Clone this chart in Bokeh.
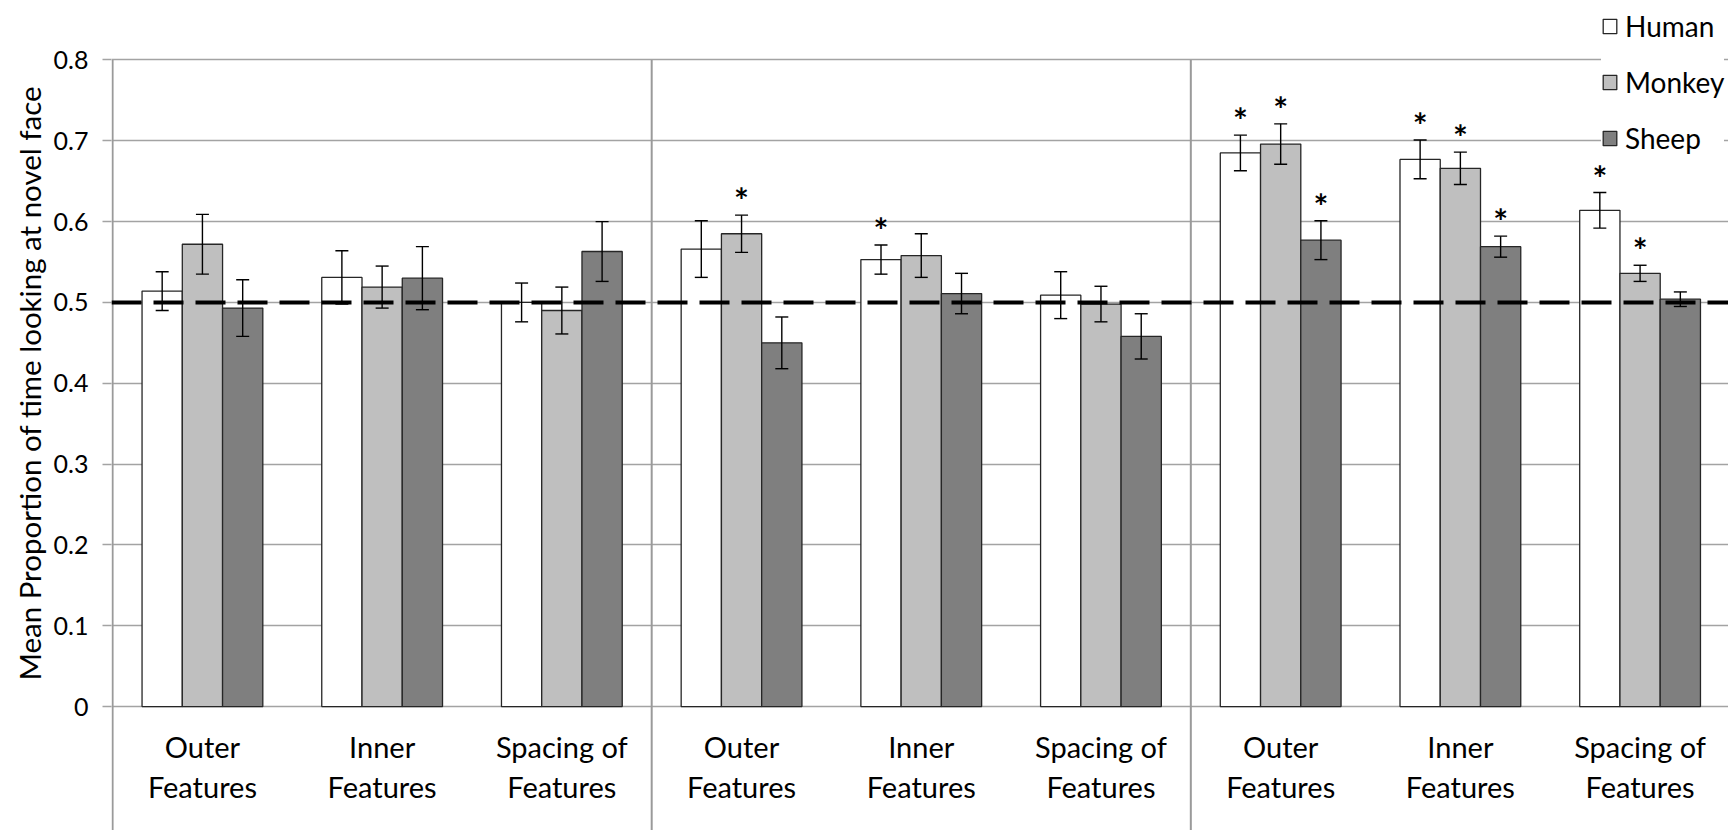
from bokeh.plotting import figure
from bokeh.models import (ColumnDataSource, Range1d, FixedTicker, Span, Whisker, TeeHead,
                          Legend, LegendItem, Title)
from bokeh.core.properties import value
from bokeh.embed import file_html
from bokeh.resources import INLINE

# ---------------- data ----------------
categories = ["Outer\nFeatures", "Inner\nFeatures", "Spacing of\nFeatures"] * 3
series_names = ["Human", "Monkey", "Sheep"]
human = [0.514, 0.531, 0.500, 0.566, 0.553, 0.509, 0.685, 0.677, 0.614]
human_err = [0.024, 0.033, 0.024, 0.035, 0.018, 0.029, 0.022, 0.024, 0.022]
monkey = [0.572, 0.519, 0.490, 0.585, 0.558, 0.498, 0.696, 0.666, 0.536]
monkey_err = [0.037, 0.026, 0.029, 0.023, 0.027, 0.022, 0.025, 0.020, 0.010]
sheep = [0.493, 0.530, 0.563, 0.450, 0.511, 0.458, 0.577, 0.569, 0.504]
sheep_err = [0.035, 0.039, 0.037, 0.032, 0.025, 0.028, 0.024, 0.013, 0.009]
human_sig = [0, 0, 0, 0, 1, 0, 1, 1, 1]
monkey_sig = [0, 0, 0, 1, 0, 0, 1, 1, 1]
sheep_sig = [0, 0, 0, 0, 0, 0, 1, 1, 0]
y_ticks = [0, 0.1, 0.2, 0.3, 0.4, 0.5, 0.6, 0.7, 0.8]
y_tick_labels = ["0", "0.1", "0.2", "0.3", "0.4", "0.5", "0.6", "0.7", "0.8"]
chance_level = 0.5
group_size = 3
y_title = "Mean Proportion of time looking at novel face"

# ---------------- styling ----------------
FONT = "Lato"
fills = ["#ffffff", "#bfbfbf", "#7f7f7f"]
bar_w = 0.224
offsets = [-bar_w, 0.0, bar_w]

n = len(categories)
centers = [i + 0.5 for i in range(n)]

p = figure(width=1728, height=830, output_backend="svg", toolbar_location=None,
           x_range=Range1d(-0.006, 8.992), y_range=Range1d(-0.1534, 0.8736),
           min_border_left=111, min_border_right=0, min_border_top=0, min_border_bottom=0)
p.outline_line_color = None
p.background_fill_color = "white"
p.border_fill_color = "white"

# grid
p.xgrid.grid_line_color = None
p.ygrid.ticker = FixedTicker(ticks=y_ticks)
p.ygrid.grid_line_color = "#a3a3a3"
p.ygrid.grid_line_width = 1.3

# y axis
p.yaxis.ticker = FixedTicker(ticks=y_ticks)
p.yaxis.major_label_overrides = {t: l for t, l in zip(y_ticks, y_tick_labels)}
p.yaxis.axis_line_color = None
p.yaxis.major_tick_line_color = "#a3a3a3"
p.yaxis.major_tick_line_width = 1.3
p.yaxis.major_tick_out = 9
p.yaxis.major_tick_in = 0
p.yaxis.minor_tick_line_color = None
p.yaxis.major_label_standoff = 14
p.yaxis.major_label_text_font = FONT
p.yaxis.major_label_text_font_size = "25px"
p.yaxis.major_label_text_color = "black"

# y title (left side panel, shifted along the axis)
p.add_layout(Title(text=y_title, align="left", offset=150, standoff=4,
                   vertical_align="top",
                   text_font=FONT, text_font_size="29.5px", text_font_style="normal",
                   text_color="black"), "left")

# x axis (inside the frame, at y = 0)
p.xaxis.fixed_location = 0
p.xaxis.ticker = FixedTicker(ticks=centers)
p.xaxis.major_label_overrides = {c: l for c, l in zip(centers, categories)}
p.xaxis.axis_line_color = None
p.xaxis.major_tick_line_color = None
p.xaxis.major_tick_out = 0
p.xaxis.major_tick_in = 0
p.xaxis.minor_tick_line_color = None
p.xaxis.major_label_standoff = 22
p.xaxis.major_label_text_font = FONT
p.xaxis.major_label_text_font_size = "29px"
p.xaxis.major_label_text_color = "black"
p.xaxis.major_label_text_line_height = 1.15

# vertical separators (left edge + group boundaries)
bounds = [g * group_size for g in range(n // group_size)]
p.segment(x0=bounds, y0=[p.y_range.start] * len(bounds), x1=bounds,
          y1=[max(y_ticks)] * len(bounds), line_color="#9a9a9a", line_width=2)

# chance line
p.add_layout(Span(location=chance_level, dimension="width", line_color="black",
                  line_width=4, line_dash="30 12"))

all_vals = [human, monkey, sheep]
all_errs = [human_err, monkey_err, sheep_err]
all_sig = [human_sig, monkey_sig, sheep_sig]
renderers = []
for name, vals, errs, sig, fill, off in zip(series_names, all_vals, all_errs, all_sig, fills, offsets):
    src = ColumnDataSource(dict(
        x=[c + off for c in centers], top=vals,
        upper=[v + e for v, e in zip(vals, errs)],
        lower=[v - e for v, e in zip(vals, errs)]))
    r = p.vbar(x="x", top="top", bottom=0, width=bar_w, source=src,
               fill_color=fill, line_color="#262626", line_width=1.3)
    renderers.append((name, r))
    w = Whisker(source=src, base="x", upper="upper", lower="lower",
                line_color="black", line_width=1.4, level="annotation",
                upper_head=TeeHead(size=13, line_color="black", line_width=1.4),
                lower_head=TeeHead(size=13, line_color="black", line_width=1.4))
    p.add_layout(w)
    sig_src = ColumnDataSource(dict(
        x=[c + off for c, s in zip(centers, sig) if s],
        y=[v + e for v, e, s in zip(vals, errs, sig) if s]))
    p.text(x="x", y="y", text=value("*"), source=sig_src, text_font=value(FONT),
           text_font_size="35px", text_font_style="bold", text_align="center",
           text_baseline="middle", text_color="black", y_offset=-16)

legend = Legend(items=[LegendItem(label=nm, renderers=[r]) for nm, r in renderers],
                location=(1490, 675), padding=12, spacing=22, label_height=33,
                glyph_width=17, glyph_height=18, label_standoff=7, margin=0,
                label_text_font=FONT, label_text_font_size="28px",
                label_text_color="black", background_fill_color="white",
                background_fill_alpha=1.0, border_line_color=None)
p.add_layout(legend)

open("out.html", "w").write(file_html(p, INLINE))
